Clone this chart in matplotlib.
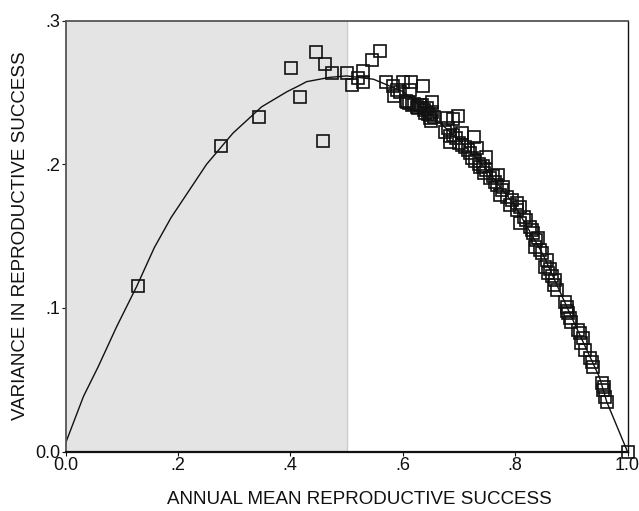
import matplotlib
matplotlib.use("Agg")
import matplotlib.pyplot as plt

plt.rcParams['font.family'] = ['Liberation Sans', 'DejaVu Sans']

# Scatter points (annual mean RS, variance in RS)
pts_x = [0.129, 0.277, 0.344, 0.417, 0.401, 0.445, 0.462, 0.459, 0.475, 0.500, 0.509,
         0.560, 0.545, 0.529, 0.521, 0.529, 0.570, 0.582, 0.585, 0.600, 0.615, 0.636,
         0.613, 0.590, 0.595, 0.605, 0.607, 0.611, 0.616, 0.620, 0.625, 0.628, 0.630,
         0.634, 0.638, 0.640, 0.643, 0.645, 0.648, 0.650, 0.652, 0.652, 0.649, 0.655,
         0.678, 0.699, 0.690, 0.675, 0.680, 0.685, 0.690, 0.694, 0.705, 0.684, 0.700,
         0.705, 0.710, 0.726, 0.717, 0.720, 0.732, 0.723, 0.728, 0.735, 0.749, 0.738,
         0.742, 0.749, 0.745, 0.770, 0.755, 0.760, 0.765, 0.767, 0.779, 0.773, 0.776,
         0.785, 0.791, 0.795, 0.803, 0.803, 0.808, 0.815, 0.809, 0.820, 0.827, 0.832,
         0.830, 0.835, 0.838, 0.840, 0.844, 0.848, 0.856, 0.853, 0.859, 0.862, 0.871,
         0.866, 0.874, 0.870, 0.892, 0.889, 0.895, 0.898, 0.893, 0.900, 0.915, 0.912,
         0.918, 0.920, 0.924, 0.936, 0.939, 0.934, 0.954, 0.957, 0.960, 0.963, 0.958,
         1.000]
pts_y = [0.1153, 0.2127, 0.2328, 0.2468, 0.2672, 0.2784, 0.2698, 0.2162, 0.2633, 0.2633, 0.2552,
         0.2785, 0.2726, 0.2652, 0.2598, 0.2575, 0.2575, 0.2545, 0.2475, 0.2575, 0.2575, 0.2545,
         0.2517, 0.2520, 0.2500, 0.2440, 0.2436, 0.2425, 0.2413, 0.2420, 0.2401, 0.2390, 0.2410,
         0.2413, 0.2380, 0.2360, 0.2395, 0.2350, 0.2340, 0.2300, 0.2436, 0.2366, 0.2320, 0.2330,
         0.2320, 0.2336, 0.2313, 0.2227, 0.2250, 0.2200, 0.2204, 0.2180, 0.2216, 0.2157, 0.2150,
         0.2134, 0.2120, 0.2192, 0.2100, 0.2080, 0.2111, 0.2042, 0.2020, 0.2000, 0.2053, 0.1983,
         0.1990, 0.1960, 0.1940, 0.1926, 0.1903, 0.1920, 0.1880, 0.1856, 0.1844, 0.1786, 0.1820,
         0.1775, 0.1717, 0.1750, 0.1729, 0.1682, 0.1700, 0.1635, 0.1590, 0.1610, 0.1566, 0.1520,
         0.1545, 0.1427, 0.1470, 0.1490, 0.1404, 0.1380, 0.1334, 0.1287, 0.1241, 0.1270, 0.1195,
         0.1220, 0.1125, 0.1160, 0.1009, 0.1040, 0.0963, 0.0928, 0.0980, 0.0900, 0.0824, 0.0850,
         0.0754, 0.0790, 0.0708, 0.0626, 0.0591, 0.0650, 0.0476, 0.0429, 0.0383, 0.0348, 0.0450,
         0.0000]

# Fitted curve
curve_x = [0.0, 0.032, 0.058, 0.091, 0.127, 0.158, 0.188, 0.251, 0.298, 0.349, 0.394,
           0.417, 0.429, 0.470, 0.500, 0.548, 0.601, 0.654, 0.700, 0.750, 0.800, 0.850,
           0.900, 0.950, 0.963, 1.000]
curve_y = [0.0058, 0.0385, 0.0590, 0.0870, 0.1153, 0.1420, 0.1630, 0.2000, 0.2217, 0.2400, 0.2505,
           0.2550, 0.2575, 0.2605, 0.2615, 0.2592, 0.2505, 0.2331, 0.2170, 0.1960, 0.1710, 0.1370,
           0.0940, 0.0520, 0.0348, 0.0000]

xticks = [0.0, 0.2, 0.4, 0.6, 0.8, 1.0]
xticklabels = ['0.0', '.2', '.4', '.6', '.8', '1.0']
yticks = [0.0, 0.1, 0.2, 0.3]
yticklabels = ['0.0', '.1', '.2', '.3']
shade_range = (0.0, 0.5)

fig = plt.figure(figsize=(6.39, 5.11), dpi=100)
ax = fig.add_axes([65.5 / 639, 1 - 451.7 / 511, 562 / 639, (451.7 - 20.6) / 511])

ax.axvspan(shade_range[0], shade_range[1], facecolor='#e4e4e4', edgecolor='none', zorder=0)
ax.axvline(shade_range[1], color='#cccccc', lw=1.0, zorder=0.5)

ax.plot(curve_x, curve_y, color='#111111', lw=1.0, zorder=2)
ax.plot(pts_x, pts_y, linestyle='none', marker='s', markersize=8.5,
        markerfacecolor='none', markeredgecolor='#111111', markeredgewidth=1.2, zorder=3,
        clip_on=False)

ax.set_xlim(0, 1)
ax.set_ylim(0, 0.3)
ax.set_xticks(xticks)
ax.set_xticklabels(xticklabels)
ax.set_yticks(yticks)
ax.set_yticklabels(yticklabels)
ax.tick_params(direction='out', length=3, width=0.8, labelsize=13, pad=1, colors='#111111')

for side in ['left', 'top']:
    ax.spines[side].set_color('#555555')
    ax.spines[side].set_linewidth(1.3)
ax.spines['right'].set_color('#111111')
ax.spines['right'].set_linewidth(1.0)
ax.spines['bottom'].set_color('#111111')
ax.spines['bottom'].set_linewidth(1.6)

ax.set_xlabel('ANNUAL MEAN REPRODUCTIVE SUCCESS', fontsize=13.5, color='#111111')
ax.set_ylabel('VARIANCE IN REPRODUCTIVE SUCCESS', fontsize=13.5, color='#111111')
ax.xaxis.set_label_coords((359 - 65.5) / 562, -(499 - 451.7) / (451.7 - 20.6))
ax.yaxis.set_label_coords(-(65.5 - 21) / 562, 0.5)
ax.xaxis.label.set_va('center')
ax.yaxis.label.set_va('center')

fig.savefig('out.png', dpi=100)
